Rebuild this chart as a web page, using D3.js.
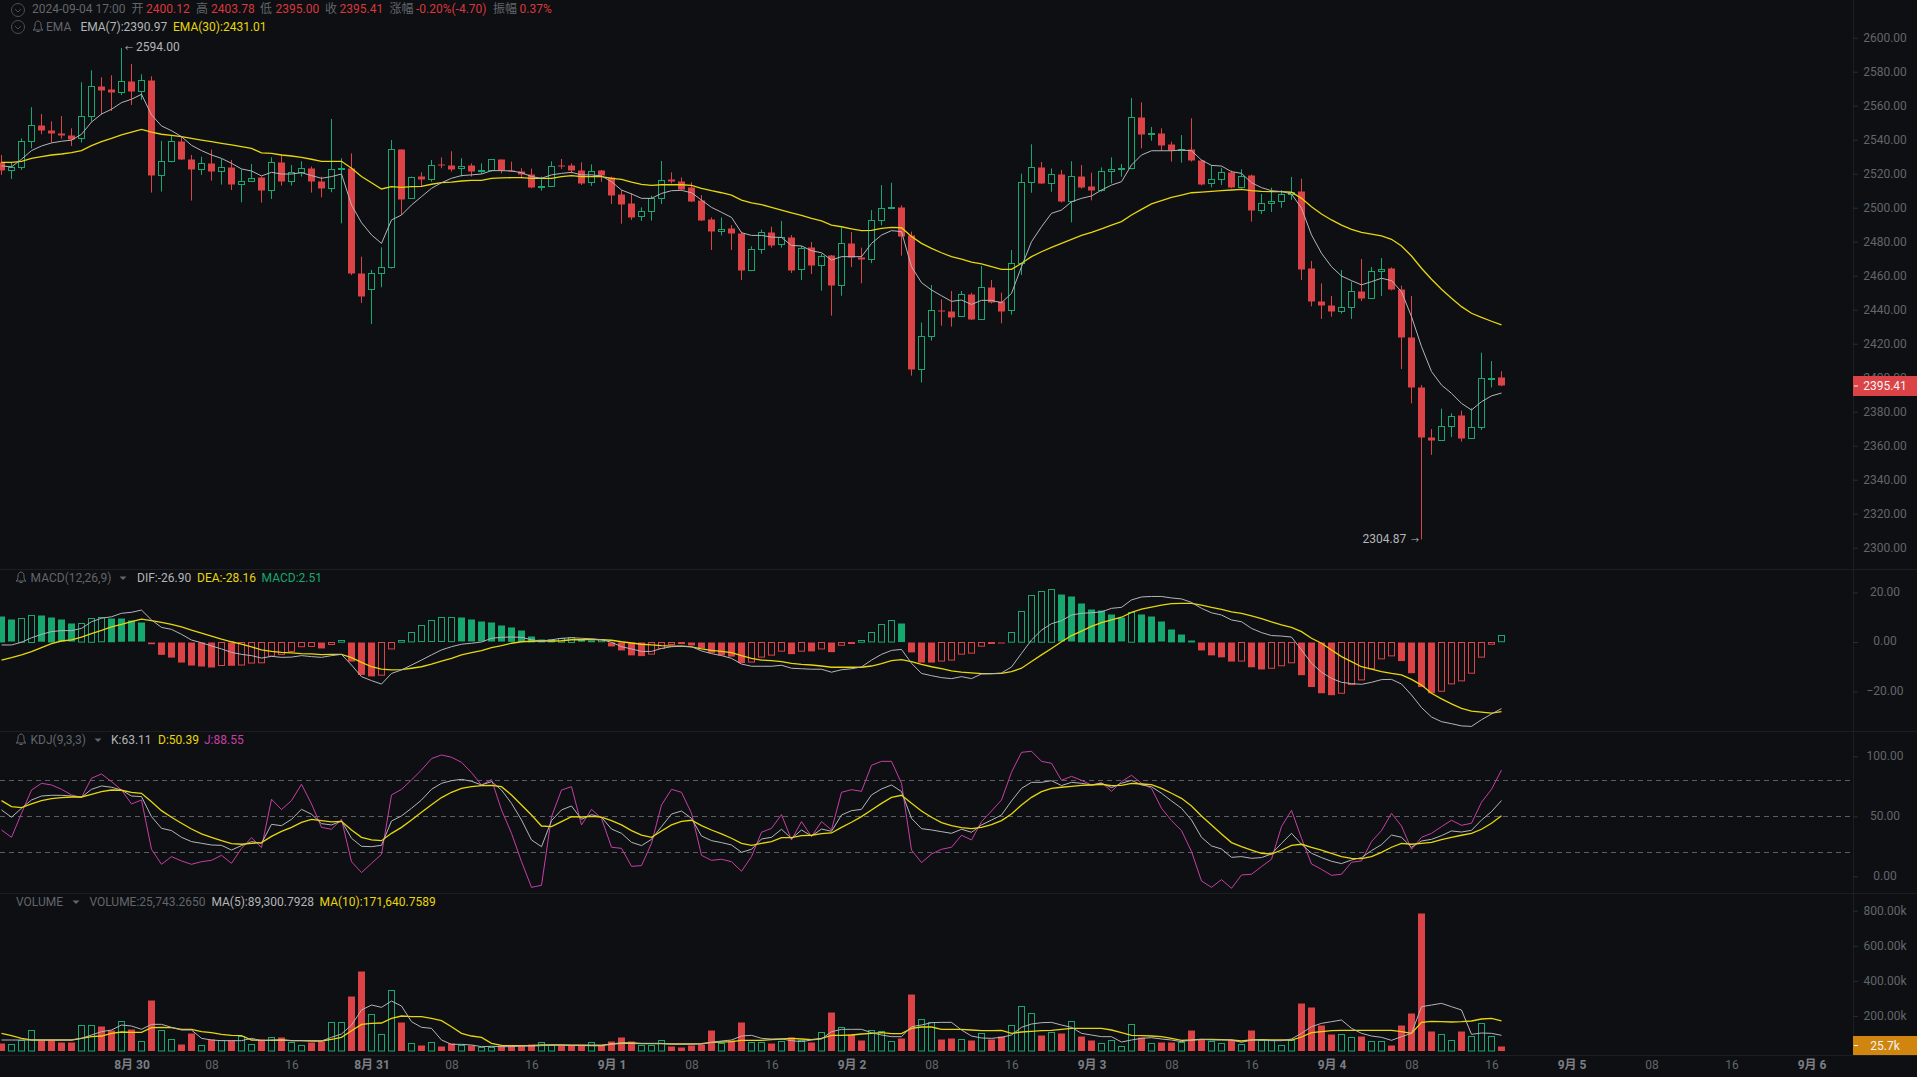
<!DOCTYPE html>
<html>
<head>
<meta charset="utf-8">
<script src="https://cdn.jsdelivr.net/npm/d3@7"></script>
<style>
  html, body { margin: 0; padding: 0; background: #0d0f12; }
  svg { display: block; }
  text { font-family: Roboto, "Noto Sans CJK SC", sans-serif; font-size: 12px; }
</style>
</head>
<body>
<div id="chart"></div>
<script>
// candles, one per hour, 2024-08-29 11:00 to 2024-09-04 17:00
var opens = [
  2526.7,2521.8,2523.8,2538.9,2548.5,2545.5,2543.8,2542.6,2540.8,2553.8,
  2571.4,2569.3,2567.9,2574.4,2568.5,2575.1,2519.1,2527.3,2539.1,2528.5,
  2522.6,2526.1,2521.4,2523.8,2513.8,2515.5,2517.5,2510.2,2526.7,2515.5,
  2520.8,2523.2,2515.5,2511.2,2522.4,2523.2,2461.4,2451.6,2461.4,2464.7,
  2534.4,2505.3,2518.1,2516.3,2525.7,2525.1,2523.2,2524.6,2521.2,2522,
  2528.1,2521.8,2521.4,2519.7,2511.6,2512.4,2525.1,2524.6,2522,2514.7,
  2521.6,2517.7,2507.5,2502.2,2495.1,2497.8,2505.3,2516.3,2515.7,2511.6,
  2504.5,2492.8,2485.9,2487.5,2485.1,2462.9,2475.5,2485.5,2478.2,2482.5,
  2463.5,2476.3,2466.1,2471.6,2454.3,2479.2,2471,2469.6,2492.6,2499.4,
  2500.2,2483.7,2404.9,2424.3,2439.8,2439.2,2435.9,2449.2,2434.1,2453.3,
  2444.7,2439.4,2467.3,2514.9,2523.9,2514.1,2519.8,2503.5,2518.6,2512.2,
  2510,2521.4,2522.3,2523.1,2553.3,2542.9,2543.9,2536.9,2533.5,2534.3,
  2528,2514.1,2516.5,2520.8,2511.8,2518.7,2498.3,2502.6,2503.8,2507.9,
  2509.3,2464,2444.9,2442.6,2438.9,2441.4,2450.8,2446.7,2462.6,2464,
  2452,2423.8,2394.4,2364.9,2363.2,2371.4,2377.5,2364.4,2370.8,2399.3,2400.12
];
var closes = [
  2521.6,2523.6,2539.1,2548.5,2545.3,2543.6,2542.2,2540.4,2553.8,2571.2,
  2568.9,2567.7,2574.2,2568.3,2574.9,2518.9,2527.1,2539.1,2528.3,2522.4,
  2526.1,2521.2,2523.6,2513.6,2515.3,2517.3,2510,2526.5,2515.3,2520.6,
  2523,2515.3,2511.2,2522.6,2523.2,2461.2,2447.5,2461.4,2464.9,2534.4,
  2505.1,2517.9,2516.3,2524.7,2524.7,2522.6,2524.4,2521.2,2522,2528.1,
  2521.6,2521.2,2519.3,2511.6,2512.6,2524.4,2524.2,2521.6,2514.5,2521.2,
  2518.7,2507.1,2501.8,2494.4,2497.8,2505.3,2516.1,2515.3,2511,2503.9,
  2492.4,2485.9,2487.3,2484.7,2462.9,2475.3,2485.3,2478,2482.4,2463.3,
  2476.1,2465.9,2471.4,2454.1,2479,2470.6,2469.4,2492.6,2499.6,2500.4,
  2483.3,2404.7,2424.3,2439.6,2438.8,2435.7,2448.8,2434.1,2453.1,2444.5,
  2439.2,2467.3,2514.9,2523.7,2514.1,2519.6,2503.5,2518.4,2511.8,2510,
  2521.4,2522.6,2523.1,2553.1,2542.9,2543.7,2536.5,2533.9,2534.3,2527.5,
  2513.9,2516.7,2520.8,2511.8,2518.4,2498.3,2502.4,2503.8,2507.9,2509.1,
  2463.6,2444.7,2442.4,2438.9,2441.2,2450.6,2446.5,2462.4,2463.8,2451.6,
  2423.6,2394.2,2364.7,2363,2371.4,2377.3,2364.2,2370.8,2399.6,2399.8,2395.41
];
var highs = [
  2531,2526.7,2540.8,2559.1,2555.1,2550.8,2553.9,2546.7,2573.8,2580.8,
  2576.7,2577.9,2594,2584.6,2578.5,2577.3,2539.3,2542.6,2542.2,2531,
  2530,2534.2,2528.7,2528.1,2522.6,2525.7,2518.3,2529.6,2531.6,2525.1,
  2527.3,2524.2,2518.3,2552.2,2529.1,2532,2471.2,2463.4,2476.7,2539.8,
  2534.4,2518.3,2520.8,2528.1,2529.6,2533.2,2529.1,2526.1,2526.1,2528.5,
  2528.3,2527.1,2523.2,2523,2518.3,2527.3,2528.7,2526.1,2526.7,2525.5,
  2522.2,2518.3,2510.4,2508.5,2500.2,2507.1,2527.5,2520.8,2517.8,2514.9,
  2507.4,2494.3,2494.3,2489.8,2485.9,2477.3,2487.1,2488.8,2492.2,2483.9,
  2477.5,2479.8,2472.8,2472.2,2488.4,2485.7,2476.5,2498.6,2513.3,2514.7,
  2501.4,2485.9,2432.4,2454.5,2446.1,2451,2451,2450,2465.7,2457.5,
  2450,2475.1,2520,2537.3,2526.9,2523.1,2522.2,2527.3,2525.1,2520.6,
  2523.7,2529.6,2525.7,2564.5,2562,2547.5,2546.7,2538.8,2542.7,2552.6,
  2528.4,2525.1,2523.5,2521.8,2522.6,2519.5,2508.1,2511.8,2510.4,2518.1,
  2517.1,2468.7,2455.5,2448.1,2463.4,2456.5,2469.8,2465.1,2470.4,2464.9,
  2454.2,2448.1,2395.7,2369.8,2381.8,2379.1,2380.6,2382,2414.7,2409.8,2403.78
];
var lows = [
  2519.3,2516.9,2522.2,2534.9,2543.2,2538.3,2540.6,2536.3,2538.3,2550.6,
  2554.6,2556.9,2566.3,2560.4,2563.4,2508.9,2509.5,2526.7,2528.1,2504.2,
  2519.3,2515.9,2513.6,2510.4,2503.2,2515.3,2503,2505.1,2513,2513,
  2518.3,2508.9,2506.1,2509.1,2490.8,2460.4,2444,2431.6,2453.2,2464.2,
  2495.7,2505.1,2512.8,2515.3,2523.2,2521.2,2518.3,2518.3,2519.9,2521.2,
  2520.2,2521,2517.3,2511.4,2510,2512.2,2522.8,2520.2,2513.4,2512.8,
  2515.3,2502.2,2490.6,2492.8,2492.2,2492.4,2502.2,2514.3,2510.2,2503.3,
  2492.2,2475.1,2483.7,2475.1,2457.4,2462.7,2473,2476.5,2476.5,2461.6,
  2457.4,2461,2451.2,2436.5,2448.2,2465.1,2455.5,2467.4,2489.6,2499.2,
  2471.8,2401.2,2397.2,2421.8,2430.6,2430,2435.7,2433.9,2433.9,2443.7,
  2432,2437.1,2460.4,2508.8,2513.9,2509.4,2503.1,2491.4,2511.2,2504.3,
  2509.4,2514.3,2518.2,2522.6,2534.9,2539.4,2533.3,2527.1,2526.5,2527.1,
  2513.1,2512,2513.3,2511.4,2511.4,2491.8,2496.3,2497.5,2500,2504.6,
  2457.5,2442,2434.6,2435.9,2437.7,2434.6,2445.1,2446.5,2448.1,2451.4,
  2405.1,2384.9,2304.87,2354.6,2363,2365.1,2362.4,2364.2,2369.3,2394.2,2395
];
var ema7 = [
  2524.6,2524,2528.5,2533.6,2536.3,2538.1,2539.1,2539.7,2543.2,2550.4,
  2555.1,2557.9,2561.8,2563.8,2566.7,2554.6,2548.1,2545.3,2541.8,2536.7,
  2533.6,2531,2529,2526.1,2522.8,2521.6,2518.7,2520.8,2519.8,2519.8,
  2520.6,2518.9,2517.3,2518.3,2519.8,2501.6,2491.2,2484,2479,2492.8,
  2495.7,2501.6,2506.5,2511.4,2514.7,2517.3,2518.9,2519.3,2519.8,2521.8,
  2521.8,2521.6,2520.6,2518.3,2517.3,2519.3,2520.2,2520.8,2519.3,2519.3,
  2518.7,2515.3,2510.4,2508.1,2505.5,2505.5,2508.4,2510,2510.2,2508.8,
  2504.5,2500.2,2497.3,2494.3,2485.3,2483.7,2483.7,2482.7,2482.5,2477.8,
  2477.5,2474.7,2473.5,2469.2,2471.2,2471.2,2471.2,2479,2483.9,2486.5,
  2485.9,2465.3,2455.9,2451.6,2448.2,2444.9,2445.7,2443.1,2445.5,2445.5,
  2444.1,2449.6,2465.3,2480,2488.8,2496.7,2498.6,2503.5,2505.5,2506.9,
  2510.4,2513.3,2515.3,2525.1,2531,2533.5,2533.5,2533.5,2533.9,2533.5,
  2528,2524.9,2524.5,2521.2,2520.2,2514.7,2511.8,2510,2509.5,2508.1,
  2499.7,2484,2473.2,2465.3,2459.8,2457.1,2454.6,2456.5,2458.5,2457.1,
  2450.6,2435.9,2418.3,2403.6,2395.7,2390.8,2384.9,2381,2385.9,2389.3,2390.97
];
var ema30 = [
  2526.7,2526.7,2527.3,2529,2530,2531,2531.6,2532.4,2533.6,2536.5,
  2538.9,2540.8,2542.8,2544.4,2546.1,2544.4,2543.2,2542.6,2541.8,2540.8,
  2539.8,2538.9,2537.9,2536.9,2535.9,2534.9,2532.2,2532,2531,2530.4,
  2529.6,2528.5,2527.3,2527.3,2527.3,2523.2,2518.3,2514.7,2511,2512.4,
  2512,2512.4,2512.6,2513.8,2514.7,2515.1,2515.7,2516.1,2516.1,2517.3,
  2517.5,2517.7,2517.7,2517.3,2517.3,2517.3,2518.3,2518.9,2518.3,2518.3,
  2518.3,2517.3,2516.7,2515.1,2513.7,2513.1,2513.5,2513.5,2513.5,2513.1,
  2511.4,2510,2508.8,2507.4,2504.5,2502.9,2501.8,2500.2,2498.6,2497,
  2495.5,2493.7,2492.2,2489.8,2488.8,2487.6,2486.5,2486.7,2487.8,2488.4,
  2488.2,2483,2479,2476.1,2473.5,2471.2,2469.8,2468,2466.9,2465.3,
  2463.7,2463.7,2467.3,2471.2,2474.1,2476.7,2479,2481.4,2483.7,2485.5,
  2487.6,2489.8,2491.8,2495.7,2499,2502.2,2504.1,2506.1,2507.4,2508.8,
  2509.2,2509.6,2510,2510.4,2510.8,2510,2509.6,2509.4,2509.4,2509.1,
  2505.5,2500.6,2496.3,2492.8,2489.8,2487.3,2485.5,2484.4,2483.4,2481.4,
  2477.5,2471.6,2464.4,2457.9,2452,2446.7,2441.8,2437.9,2435.5,2433.2,2431.01
];
var macdHist = [
  10.5,8.9,9.6,10.9,10.6,10.1,8.9,7.3,7.5,9.6,
  9.8,9.6,9.4,8.5,7.7,-0.7,-5,-6.1,-8.1,-9.3,
  -9.7,-10.1,-9.3,-9.4,-9.1,-8.3,-8.2,-5.5,-4.8,-3.6,
  -1.7,-1.6,-2.4,-0.8,0.7,-7.7,-13.1,-13.7,-13.2,-2.6,
  0.7,3.8,6.5,8.5,9.7,9.75,9.7,8.9,8.1,7.7,
  6.5,5.8,4.6,2.4,1.2,1.2,1.5,2,0.9,0.7,
  0.9,-1.6,-3.2,-5.2,-5.5,-4.7,-2.4,-0.8,-0.3,-1.2,
  -2.4,-4.2,-5.2,-5.7,-8.3,-7.9,-5.9,-5.1,-3.5,-4.7,
  -3.5,-3.6,-2.6,-3.9,-1.1,-0.4,0.7,3.8,7.1,8.7,
  7.5,-4,-8.1,-8.1,-7.5,-7.1,-4.7,-4.3,-1.5,-0.4,
  -0.4,3.9,12.4,18.8,20.5,21.3,19,18.2,15.7,13.3,
  12.8,11.3,9.7,12,11.3,10.5,8.1,5.2,3.2,0.8,
  -3.2,-5.2,-6,-7.7,-7.5,-10,-10.9,-10.4,-9.4,-8.2,
  -13.2,-18,-20.5,-21.3,-20.5,-17,-15.1,-10.6,-6.6,-5.4,
  -7.5,-12.4,-18,-20.5,-19.7,-16.7,-15.5,-12.4,-5.9,-0.7,2.51
];
var dif = [
  -1.2,-1.2,-0.1,1.7,3.1,4.2,4.6,4.6,5.5,8.2,
  9.6,10.2,11.6,12,12.9,8.9,5.9,5.1,3.1,0.8,
  -0.3,-1.6,-2.8,-4.2,-5,-5.5,-6.5,-5.8,-6.2,-6.1,
  -5.5,-5.9,-6.2,-5.5,-5,-9.3,-14,-15.6,-17,-12.7,
  -11.3,-9.3,-7.3,-5.2,-3.2,-1.9,-0.9,-0.5,0,1.5,
  1.9,2,1.9,0.9,0.4,0.9,1.5,1.7,1.5,1.3,
  0.9,-0.1,-1.9,-2.8,-3.8,-3.8,-2.6,-1.9,-1.7,-1.9,
  -3.6,-4.7,-5.5,-6.6,-8.9,-9.8,-9.8,-9.8,-9.4,-10.6,
  -10.8,-11,-11,-12.2,-11.2,-10.8,-10.1,-7.3,-5,-3.4,
  -3,-8.6,-12.7,-13.6,-14.4,-14.8,-14,-14.8,-12.9,-12.8,
  -12.5,-10.1,-4.6,0.8,4.8,7.4,8.6,10.9,11.6,11.8,
  12.2,13.6,14,17,18.2,18.4,18.4,17.8,17.4,16,
  13.6,11.8,10.9,8.9,8.2,5.5,3.8,2.6,2.4,2,
  -3.2,-8.6,-12.2,-14.7,-16.3,-16.8,-17.1,-16.3,-15.2,-15.1,
  -17,-21.4,-26.5,-30.3,-32.2,-33,-33.9,-34.1,-31.4,-29.1,-26.9
];
var dea = [
  -7.3,-6.3,-5.2,-3.9,-2.3,-0.7,0.4,0.9,2,3.4,
  4.7,6.1,7.1,8.2,9.2,8.6,7.9,7.1,6.1,4.8,
  3.6,2.4,1.2,0.1,-0.9,-2,-3.2,-3.8,-4.2,-4.4,
  -4.7,-4.8,-5.1,-5,-5,-6.3,-8.2,-10,-11,-11.3,
  -11.2,-10.6,-10,-8.9,-7.7,-6.6,-5.2,-4.3,-3.5,-2.3,
  -1.5,-0.5,0.1,0.3,0.4,0.4,0.5,0.9,0.9,1.1,
  0.9,0.7,0.1,-0.4,-0.9,-1.2,-1.5,-1.7,-1.7,-2,
  -2.8,-3.4,-3.8,-4.3,-5.5,-6.6,-7.3,-7.5,-7.9,-8.6,
  -9,-9.3,-9.7,-10.2,-10.2,-10.2,-10.2,-9.7,-8.7,-7.5,
  -7.1,-7.9,-9,-10,-10.8,-11.7,-12.2,-12.5,-12.8,-12.8,
  -12.7,-12,-10.6,-7.9,-5.2,-2.6,0.1,2.6,4.4,6.3,
  7.8,8.9,10,12,13.3,14.1,14.9,15.5,15.6,15.6,
  14.9,14,13.2,12.2,11.6,10.6,9.4,8.1,6.9,5.9,
  4.2,1.5,-0.5,-3.2,-5.9,-7.9,-10,-11,-12,-12.7,
  -13.3,-15.1,-17.4,-20.7,-23,-25,-26.8,-27.9,-28.3,-28.7,-28.16
];
var kdjK = [
  55.3,49.2,56.7,63.6,66.9,67.5,67.5,66.9,65.8,72.5,
  75.3,74.2,71.9,66.9,66.4,49.7,40,38.1,32.5,28.9,
  27.5,26.1,25.8,21.9,25.6,28.9,27.5,43.3,42.2,47.5,
  55.8,51.7,43.9,42.8,46.1,31.7,25,24.7,25.8,46.1,
  50.3,56.7,63.6,72.5,77.5,79.7,80.8,79.2,76.1,78.9,
  71.9,60.8,46.9,30.3,24.7,46.4,55.3,58.6,47.5,51.4,
  49.2,39.4,35.8,28.3,25.6,30.8,41.4,51.9,54.4,48.3,
  33.6,29.7,28.1,26.1,20,22.5,31.1,32.5,39.2,31.4,
  38.6,33.6,39.4,37.5,51.1,54.7,55.8,67.8,72.8,76.1,
  70.6,48.3,39.7,38.6,37.2,35.8,39.2,36.7,42.8,46.9,
  51.1,62.8,73.3,78.3,78.3,79.7,75.6,78.3,77.5,76.1,
  77.5,73.9,77.5,80,76.1,74.7,69.2,62.8,56.7,46.9,
  32.5,25.3,22.8,15.8,16.4,15,15.6,18.6,27.5,35.8,
  26.7,19.2,15.6,12.5,10.6,13.6,15.6,21.4,26.4,34.4,
  32.5,24.2,29.4,30.8,33.9,37.8,36.9,38.3,46.9,53.9,63.11
];
var kdjD = [
  63.1,58.1,57.2,60.3,63.1,64.7,65.6,66.1,66.1,68.3,
  70.6,71.9,71.7,70,69.2,62.2,54.7,49.2,44.2,39.4,
  35.3,32.5,29.7,27.2,26.7,27.5,28.1,33.3,37.5,40.8,
  45,47.5,46.4,45.3,45.8,38.6,32.5,30.3,29.7,35.8,
  40.8,46.9,53.3,59.7,65.6,70,73.3,74.7,75.6,75.8,
  74.7,67.8,59.4,51.1,41.9,41.4,45.6,49.7,49.4,50,
  49.4,46.4,42.8,38.1,34.4,32.5,37.8,42.8,45.8,46.7,
  42.2,38.6,35.3,31.7,27.5,25.8,27.5,28.9,32.2,32.2,
  33.9,34.2,35.6,36.1,40.8,45,49.7,55.3,60.8,65.8,
  67.5,60.8,54.4,49.2,44.7,42.2,40.6,39.7,40.8,43.1,
  46.4,51.9,59.4,65.8,70.6,73.3,74.2,75,75.8,76.1,
  76.7,75.6,75.8,77.5,76.9,76.4,73.3,69.2,65,58.6,
  50.3,42.8,35.3,28.1,24.7,21.9,19.2,18.6,21.9,25.8,
  26.7,24.2,21.9,19.2,16.4,15,14.7,16.4,20,24.2,
  27.5,26.7,27.5,28.3,30.6,32.5,34.2,35.8,39.2,44.2,50.39
];
var kdjJ = [
  38.6,32.5,52.5,71.9,77.5,76.1,72.5,67.8,65.8,81.7,
  85.3,78.9,71.9,60.3,63.6,22.5,10,16.4,12.8,10,
  12.2,13.3,17.5,10.8,23.3,32.2,23.9,64.2,55.6,63.1,
  76.7,60.3,40.8,39.2,47.5,12.2,3.1,10.8,18.3,67.8,
  72.5,80.3,88.6,98.1,101.1,99.2,95,86.4,76.1,80.6,
  55.3,35.8,12.2,-9.2,-7.5,49.7,71.9,74.7,42.8,55.8,
  48.3,24.2,23.3,8.3,8.9,27.5,59.4,72.5,70,52.5,
  17.5,13.3,14.2,12.2,4.2,16.4,36.7,40,51.4,30.3,
  45.6,33.1,45.6,38.6,70,72.2,70.8,92.5,95.8,95.8,
  77.5,21.9,11.4,18.6,22.5,24.2,34.2,30.3,45.6,54.4,
  63.6,86.7,103.3,104.2,95.8,94.2,80,83.3,80,76.1,
  78.1,70.8,78.9,84.2,77.5,73.3,56.7,46.4,38.1,20.6,
  -3.9,-9.2,-2.8,-10,1.1,1.7,8.1,14.2,41.4,55,
  31.7,10.3,5.8,0.8,1.7,11.7,12.8,28.9,38.1,52.5,
  41.9,22.5,32.5,35.8,41.4,46.7,42.5,44.2,61.7,72.5,88.55
];
// volume in thousands
var volumes = [
  43.7,38,58.9,115.9,58.9,58.9,51.3,51.3,146.3,146.3,
  142.5,119.7,169.1,125.4,55.1,290.7,117.8,66.5,39.9,102.6,
  32.3,66.5,58.9,58.9,81.7,38,66.5,77.9,79.8,49.4,
  32.3,47.5,53.2,163.4,163.4,313.5,456,209,95,347.7,
  165.3,43.7,34.2,49.4,28.5,43.7,32.3,30.4,19,20.9,
  34.2,32.3,34.2,39.9,49.4,32.3,34.2,34.2,34.2,49.4,
  32.3,57,79.8,57,30.4,32.3,58.9,28.5,22.8,34.2,
  39.9,119.7,41.8,62.7,165.3,51.3,47.5,45.6,55.1,79.8,
  62.7,51.3,106.4,222.3,134.9,96.9,62.7,119.7,110.2,55.1,
  74.1,324.9,180.5,163.4,68.4,74.1,66.5,62.7,100.7,68.4,
  81.7,146.3,254.6,214.7,91.2,106.4,102.6,169.1,85.5,62.7,
  43.7,60.8,26.6,152,79.8,43.7,51.3,51.3,51.3,119.7,
  66.5,55.1,43.7,62.7,38,119.7,58.9,58.9,32.3,58.9,
  273.6,250.8,148.2,96.9,95,79.8,85.5,55.1,55.1,34.2,
  148.2,216.6,786.6,114,95,60.8,114,85.5,157.7,85.5,25.74
];
var volMa5 = [
  62.7,62.7,62.7,62.7,62.7,62.7,62.7,62.7,72.2,91.2,
  110.2,119.7,148.2,142.5,123.5,152,152,134.9,119.7,119.7,
  72.2,62.7,58.9,58.9,58.9,72.2,58.9,62.7,62.7,58.9,
  58.9,58.9,57,77.9,96.9,148.2,233.7,262.2,248.9,285,
  256.5,167.2,134.9,129.2,62.7,38,38,34.2,24.7,26.6,
  24.7,24.7,28.5,28.5,30.4,34.2,34.2,34.2,34.2,34.2,
  34.2,39.9,47.5,47.5,43.7,43.7,43.7,39.9,39.9,39.9,
  39.9,49.4,57,62.7,85.5,89.3,72.2,68.4,68.4,58.9,
  53.2,62.7,68.4,110.2,123.5,123.5,123.5,104.5,91.2,81.7,
  81.7,138.7,148.2,161.5,163.4,163.4,119.7,85.5,74.1,72.2,
  77.9,91.2,134.9,153.9,161.5,163.4,148.2,134.9,100.7,91.2,
  81.7,81.7,51.3,62.7,72.2,76,68.4,62.7,53.2,62.7,
  66.5,62.7,62.7,62.7,49.4,62.7,62.7,58.9,58.9,68.4,
  100.7,138.7,157.7,167.2,176.7,129.2,100.7,85.5,77.9,60.8,
  81.7,100.7,252.7,262.2,271.7,252.7,233.7,95,102.6,100.7,89.3
];
var volMa10 = [
  100.7,87.4,72.2,62.7,62.7,62.7,62.7,62.7,72.2,81.7,
  85.5,100.7,108.3,106.4,106.4,133,134.9,133,123.5,123.5,
  110.2,104.5,95,89.3,87.4,62.7,60.8,60.8,62.7,58.9,
  58.9,57,57,66.5,77.9,115.9,152,157.7,159.6,186.2,
  199.5,195.7,195.7,186.2,172.9,138.7,100.7,85.5,77.9,43.7,
  32.3,30.4,30.4,30.4,34.2,34.2,34.2,32.3,32.3,30.4,
  30.4,39.9,43.7,43.7,41.8,41.8,41.8,39.9,39.9,39.9,
  41.8,49.4,51.3,53.2,60.8,60.8,60.8,64.6,68.4,72.2,
  68.4,64.6,72.2,89.3,89.3,91.2,96.9,100.7,104.5,98.8,
  98.8,129.2,136.8,136.8,123.5,123.5,123.5,119.7,115.9,115.9,
  117.8,100.7,108.3,112.1,115.9,117.8,123.5,129.2,129.2,129.2,
  129.2,119.7,104.5,89.3,87.4,85.5,81.7,72.2,60.8,62.7,
  66.5,66.5,64.6,62.7,57,62.7,64.6,62.7,62.7,62.7,
  79.8,104.5,110.2,115.9,117.8,117.8,117.8,117.8,117.8,117.8,
  110.2,100.7,163.4,169.1,167.2,165.3,167.2,171,182.4,186.2,171.64
];
var dateTicks = ["8月 30","08","16","8月 31","08","16","9月 1","08","16","9月 2","08","16",
                 "9月 3","08","16","9月 4","08","16","9月 5","08","16","9月 6"];
var priceTicks = d3.range(2300, 2601, 20);
var macdTicks = [-20, 0, 20];
var kdjTicks = [0, 50, 100];
var kdjGuides = [20, 50, 80];
var volTicks = [200, 400, 600, 800];

var width = 1917, height = 1077, axisX = 1853;
var bg = "#0d0f12", red = "#dc4347", green = "#16a86f", yellow = "#e8d60c",
    white = "#b4b5b8", pink = "#c63fa6", grey = "#62666c", gridc = "#1c1e22";

var svg = d3.select("#chart").append("svg")
  .attr("width", width)
  .attr("height", height);

//scales, candle index to pixels
var x = d3.scaleLinear().domain([0, 150]).range([1.5, 1501.5]);
var yPrice = d3.scaleLinear().domain([2300, 2600]).range([547.7, 37.7]);
var yMacd = d3.scaleLinear().domain([-20, 20]).range([691.5, 592.5]);
var yKdj = d3.scaleLinear().domain([0, 100]).range([876.3, 756.3]);
var yVol = d3.scaleLinear().domain([0, 800]).range([1051, 910.7]);
var idx = d3.range(151);

function crisp(v) { return Math.round(v - 0.5) + 0.5; }

//pane borders
[569.5, 731.5, 893.5, 1055.5].forEach(function(y) {
  svg.append("line").attr("x1", 0).attr("x2", width).attr("y1", y).attr("y2", y).attr("stroke", gridc);
});
svg.append("line").attr("x1", axisX + 0.5).attr("x2", axisX + 0.5).attr("y1", 0).attr("y2", 1055)
  .attr("stroke", gridc);

//kdj guides
svg.append("g").selectAll("line").data(kdjGuides).enter().append("line")
  .attr("x1", 0).attr("x2", axisX)
  .attr("y1", function(d) { return crisp(yKdj(d)); })
  .attr("y2", function(d) { return crisp(yKdj(d)); })
  .attr("stroke", "#5c5e62").attr("stroke-dasharray", "5,4");

//candles
var candles = svg.append("g").selectAll("g").data(idx).enter().append("g");
candles.append("line")
  .attr("x1", function(i) { return x(i); })
  .attr("x2", function(i) { return x(i); })
  .attr("y1", function(i) { return yPrice(highs[i]); })
  .attr("y2", function(i) { return yPrice(lows[i]); })
  .attr("stroke", function(i) { return closes[i] >= opens[i] ? green : red; });
candles.append("rect")
  .each(function(i) {
    var up = closes[i] >= opens[i];
    var top = crisp(yPrice(Math.max(opens[i], closes[i])));
    var bot = crisp(yPrice(Math.min(opens[i], closes[i])));
    d3.select(this)
      .attr("x", up ? x(i) - 3 : x(i) - 3.5)
      .attr("width", up ? 6 : 7)
      .attr("y", top)
      .attr("height", Math.max(bot - top, 1))
      .attr("fill", up ? bg : red)
      .attr("stroke", up ? green : "none");
  });

//macd histogram, hollow while the value is rising
svg.append("g").selectAll("rect").data(idx).enter().append("rect")
  .each(function(i) {
    var v = macdHist[i], rising = i > 0 && v > macdHist[i - 1];
    var c = v >= 0 ? green : red;
    var y0 = yMacd(0), y1 = yMacd(v);
    var top = crisp(Math.min(y0, y1)), h = Math.max(Math.abs(y1 - y0), 1);
    d3.select(this)
      .attr("x", rising ? x(i) - 3 : x(i) - 3.5)
      .attr("width", rising ? 6 : 7)
      .attr("y", top)
      .attr("height", h)
      .attr("fill", rising ? "none" : c)
      .attr("stroke", rising ? c : "none");
  });

//volume bars, green hollow and red filled like the candles
svg.append("g").selectAll("rect").data(idx).enter().append("rect")
  .each(function(i) {
    var up = closes[i] >= opens[i];
    var top = crisp(yVol(volumes[i]));
    d3.select(this)
      .attr("x", up ? x(i) - 3 : x(i) - 3.5)
      .attr("width", up ? 6 : 7)
      .attr("y", top)
      .attr("height", yVol(0) - top)
      .attr("fill", up ? "none" : red)
      .attr("stroke", up ? green : "none");
  });

function drawLine(values, yScale, color, w) {
  var line = d3.line()
    .x(function(d, i) { return x(i); })
    .y(function(d) { return yScale(d); });
  svg.append("path").datum(values)
    .attr("d", line)
    .attr("fill", "none")
    .attr("stroke", color)
    .attr("stroke-width", w || 1);
}

drawLine(ema30, yPrice, yellow, 1.3);
drawLine(ema7, yPrice, white);
drawLine(dea, yMacd, yellow, 1.3);
drawLine(dif, yMacd, white);
drawLine(kdjJ, yKdj, pink);
drawLine(kdjK, yKdj, white);
drawLine(kdjD, yKdj, yellow, 1.3);
drawLine(volMa10, yVol, yellow, 1.3);
drawLine(volMa5, yVol, white);

//right axes
function rightAxis(scale, ticks, fmt, shift) {
  var g = svg.append("g")
    .attr("transform", "translate(" + axisX + ",0)")
    .call(d3.axisRight(scale).tickValues(ticks).tickSize(5).tickFormat(fmt));
  g.select(".domain").remove();
  g.selectAll("line").attr("stroke", "#2a2d31");
  g.selectAll("text")
    .attr("x", 32)
    .attr("y", shift || 0)
    .attr("text-anchor", "middle")
    .attr("fill", grey)
    .style("font-size", "12px");
}
rightAxis(yPrice, priceTicks, d3.format(".2f"));
rightAxis(yMacd, macdTicks, d3.format(".2f"), -1);
rightAxis(yKdj, kdjTicks, d3.format(".2f"), -1);
rightAxis(yVol, volTicks, function(d) { return d3.format(".2f")(d) + "k"; });

//date axis
var xAxis = svg.append("g")
  .attr("transform", "translate(0,1056)")
  .call(d3.axisBottom(x)
    .tickValues(dateTicks.map(function(d, i) { return 13 + i * 8; }))
    .tickSize(0)
    .tickPadding(4)
    .tickFormat(function(d) { return dateTicks[(d - 13) / 8]; }));
xAxis.select(".domain").remove();
xAxis.selectAll("text")
  .attr("fill", function(d) { return dateTicks[(d - 13) / 8].length > 2 ? "#7b7e84" : grey; })
  .style("font-weight", function(d) { return dateTicks[(d - 13) / 8].length > 2 ? 700 : 400; })
  .style("font-size", "12px");

//last value labels
function lastLabel(y, h, fill, label) {
  svg.append("rect").attr("x", axisX).attr("y", y - h / 2).attr("width", width - axisX).attr("height", h).attr("fill", fill);
  svg.append("line").attr("x1", axisX + 1).attr("x2", axisX + 5).attr("y1", y).attr("y2", y).attr("stroke", "#f2f2f2");
  svg.append("text").attr("x", axisX + 32).attr("y", y + 4).attr("text-anchor", "middle").attr("fill", "#f4f4f4").text(label);
}
lastLabel(yPrice(2395.41) + 0.5, 20, red, "2395.41");
lastLabel(1045.5, 19, "#d0850f", "25.7k");

//legend text
function label(px, py, str, color, size) {
  svg.append("text").attr("x", px).attr("y", py + 4).attr("fill", color)
    .style("font-size", (size || 12) + "px").text(str);
}
function chevron(cx, cy) {
  svg.append("circle").attr("cx", cx).attr("cy", cy).attr("r", 6.5).attr("fill", "none").attr("stroke", "#4a4d52");
  svg.append("path").attr("d", "M" + (cx - 3) + "," + (cy - 1) + "L" + cx + "," + (cy + 2) + "L" + (cx + 3) + "," + (cy - 1))
    .attr("fill", "none").attr("stroke", "#4a4d52");
}
function bell(cx, cy) {
  svg.append("path")
    .attr("d", "M" + (cx - 5) + "," + (cy + 3) + "c2,-1 2,-3 2,-5c0,-2 1,-4 3,-4c2,0 3,2 3,4c0,2 0,4 2,5z" +
               "M" + (cx - 1.5) + "," + (cy + 4.5) + "h3")
    .attr("fill", "none").attr("stroke", grey);
}
function caret(cx, cy) {
  svg.append("path").attr("d", "M" + (cx - 3.5) + "," + (cy - 1.5) + "h7l-3.5,3.5z").attr("fill", grey);
}

chevron(18, 10);
label(32, 9, "2024-09-04 17:00", grey);
[[131.5, "开"], [196, "高"], [260, "低"], [325, "收"], [389.4, "涨幅"], [493, "振幅"]].forEach(function(d) {
  label(d[0], 9, d[1], grey);
});
[[146, "2400.12"], [211, "2403.78"], [275.5, "2395.00"], [339.6, "2395.41"], [416, "-0.20%(-4.70)"], [519.6, "0.37%"]].forEach(function(d) {
  label(d[0], 9, d[1], "#d9383d");
});

chevron(18, 27);
bell(38, 27);
label(46, 27, "EMA", grey);
label(80.4, 27, "EMA(7):2390.97", white);
label(173, 27, "EMA(30):2431.01", yellow);

bell(21, 578);
label(30.6, 578, "MACD(12,26,9)", grey);
caret(123, 578);
label(137, 578, "DIF:-26.90", white);
label(197, 578, "DEA:-28.16", yellow);
label(261.6, 578, "MACD:2.51", green);

bell(21, 740);
label(30.6, 740, "KDJ(9,3,3)", grey);
caret(98, 740);
label(111, 740, "K:63.11", white);
label(158, 740, "D:50.39", yellow);
label(204, 740, "J:88.55", pink);

label(16, 902, "VOLUME", grey);
caret(76, 902);
label(89.4, 902, "VOLUME:25,743.2650", grey);
label(211.4, 902, "MA(5):89,300.7928", white);
label(319.6, 902, "MA(10):171,640.7589", yellow);

//high and low notes
label(125, 47, "←", white, 8);
label(136, 47, "2594.00", white);
label(1362.6, 539, "2304.87", white);
label(1411, 539, "→", white, 8);
</script>
</body>
</html>
